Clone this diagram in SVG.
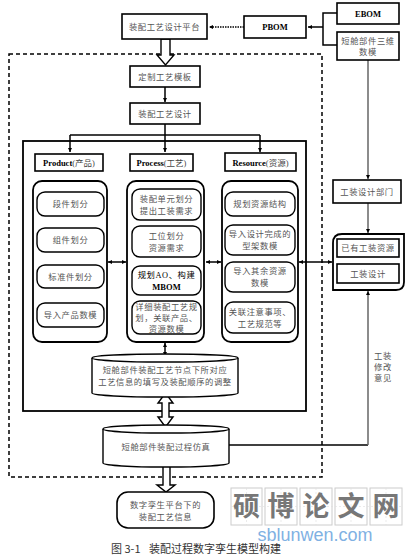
<svg xmlns="http://www.w3.org/2000/svg" width="419" height="559" viewBox="0 0 419 559">
<defs>
<marker id="arr" viewBox="0 0 10 10" refX="10" refY="5" markerWidth="4" markerHeight="4" orient="auto-start-reverse" markerUnits="userSpaceOnUse">
<path d="M0,0 L10,5 L0,10 Z" fill="#000"/>
</marker>
</defs>
<style>
.bx{fill:#fff;stroke:#000;stroke-width:1.6}
.pn{fill:#fff;stroke:#000;stroke-width:1.8}
.it{fill:#fff;stroke:#000;stroke-width:1.4}
.t{font-family:"Liberation Serif","Noto Sans CJK SC",serif;font-size:8.3px;fill:#555;text-anchor:middle;letter-spacing:0.6px}
.tb{font-family:"Liberation Serif","Noto Sans CJK SC",serif;font-size:8.5px;fill:#000;text-anchor:middle;font-weight:bold}
.cj{font-weight:normal;fill:#444}
.ln{fill:none;stroke:#000;stroke-width:1.5}
.gl{fill:none;stroke:#666;stroke-width:1.5}
.hol{fill:#fff;stroke:#000;stroke-width:1.4}
.dash{fill:none;stroke:#000;stroke-width:1.5;stroke-dasharray:4,3}
.wm{font-family:"Noto Sans CJK SC",sans-serif;font-size:27px;font-weight:bold;fill:#777;text-anchor:middle}
.wb{fill:#fff;stroke:#ccc;stroke-width:1}
.wg{stroke:#ddd;stroke-width:0.6;stroke-dasharray:2,2}
.cap{font-family:"Noto Sans CJK SC",sans-serif;font-size:11px;fill:#333}
</style>

<rect class="dash" x="9" y="54" width="313" height="423"/>
<rect class="pn" x="23" y="141" width="283" height="270"/>

<g id="connectors">
<path class="ln" d="M244,27 H209" stroke-dasharray="1.5,1" marker-end="url(#arr)"/>
<path class="ln" d="M337,13 H323 V45 H337" stroke-width="2"/>
<path class="ln" d="M323,27 H308" stroke-width="2" marker-end="url(#arr)"/>
<path class="gl" d="M368,60 V179" marker-end="url(#arr)"/>
<path class="gl" d="M368,203 V233" marker-end="url(#arr)"/>
<path class="hol" d="M161,39 V55 H157 L165.5,65 L174,55 H170 V39 Z"/>
<path class="ln" d="M165,87 V102" marker-end="url(#arr)"/>
<path class="ln" d="M165,124 V135"/>
<path class="ln" d="M70,135 H260" stroke-width="2"/>
<path class="ln" d="M70,135 V152" marker-end="url(#arr)"/>
<path class="ln" d="M165,135 V152" marker-end="url(#arr)"/>
<path class="ln" d="M260,135 V152" marker-end="url(#arr)"/>
<path class="ln" d="M108,262 H126" marker-start="url(#arr)" marker-end="url(#arr)"/>
<path class="ln" d="M206,262 H221" marker-start="url(#arr)" marker-end="url(#arr)"/>
<path class="ln" d="M299,262 H332" marker-start="url(#arr)" marker-end="url(#arr)"/>
<path class="ln" d="M165,343 V356" marker-start="url(#arr)" marker-end="url(#arr)"/>
<path class="hol" d="M162,403 H158 L165.5,393 L173,403 H169 V417 H173 L165.5,427 L158,417 H162 Z"/>
<path class="ln" d="M229,445 H368" stroke-width="2"/>
<path class="gl" d="M368,445 V291" marker-end="url(#arr)"/>
<path class="hol" d="M163,463 V485 H157 L166,492 L175,485 H170 V463 Z"/>
</g>

<g id="platform"><rect class="bx" x="122" y="14" width="85" height="25"/><text class="t" x="164.5" y="30">装配工艺设计平台</text></g>
<g id="pbom"><rect class="bx" x="244" y="16" width="62" height="22" stroke-width="2"/><text class="tb" x="275" y="30">PBOM</text></g>
<g id="ebom"><rect class="bx" x="337" y="3" width="62" height="21" stroke-width="2"/><text class="tb" x="368" y="17">EBOM</text></g>
<g id="model3d"><rect class="bx" x="337" y="32" width="62" height="28" stroke-width="2"/><text class="t" x="368" y="44">短舱部件三维</text><text class="t" x="368" y="55">数模</text></g>
<g id="template"><rect class="bx" x="130" y="66" width="70" height="21"/><text class="t" x="165" y="79.5">定制工艺模板</text></g>
<g id="design"><rect class="bx" x="130" y="103" width="70" height="21"/><text class="t" x="165" y="116.5">装配工艺设计</text></g>

<g id="product">
<rect class="bx" x="35" y="154" width="68" height="17"/><text class="tb" x="69" y="165.5">Product<tspan class="cj">(产品)</tspan></text>
<rect class="pn" x="33" y="181" width="74" height="161" rx="9"/>
<rect class="it" x="37" y="192" width="67" height="24" rx="8"/><text class="t" x="70.5" y="207">段件划分</text>
<rect class="it" x="37" y="228" width="67" height="24" rx="8"/><text class="t" x="70.5" y="243">组件划分</text>
<rect class="it" x="37" y="265" width="67" height="23" rx="8"/><text class="t" x="70.5" y="279.5">标准件划分</text>
<rect class="it" x="37" y="303" width="67" height="24" rx="8"/><text class="t" x="70.5" y="318">导入产品数模</text>
</g>

<g id="process">
<rect class="bx" x="130" y="154" width="63" height="17"/><text class="tb" x="161.5" y="165.5">Process<tspan class="cj">(工艺)</tspan></text>
<rect class="pn" x="127" y="181" width="77" height="161" rx="9"/>
<rect class="it" x="132" y="189" width="69" height="31" rx="8"/><text class="t" x="166.5" y="202">装配单元划分</text><text class="t" x="166.5" y="214">提出工装需求</text>
<rect class="it" x="132" y="226" width="69" height="31" rx="8"/><text class="t" x="166.5" y="239">工位划分</text><text class="t" x="166.5" y="251">资源需求</text>
<rect class="it" x="132" y="266" width="69" height="29" rx="8"/><text class="t" x="166.5" y="278" style="fill:#000">规划AO、构建</text><text class="tb" x="166.5" y="290">MBOM</text>
<rect class="it" x="132" y="301" width="69" height="33" rx="8"/><text class="t" x="166.5" y="310">详细装配工艺规</text><text class="t" x="166.5" y="321">划，关联产品、</text><text class="t" x="166.5" y="332">资源数模</text>
</g>

<g id="resource">
<rect class="bx" x="225" y="153" width="71" height="18"/><text class="tb" x="260.5" y="165.5">Resource<tspan class="cj">(资源)</tspan></text>
<rect class="pn" x="222" y="181" width="76" height="161" rx="9"/>
<rect class="it" x="225" y="192" width="70" height="24" rx="8"/><text class="t" x="260" y="207">规划资源结构</text>
<rect class="it" x="225" y="225" width="70" height="30" rx="8"/><text class="t" x="260" y="237">导入设计完成的</text><text class="t" x="260" y="249">型架数模</text>
<rect class="it" x="225" y="262" width="70" height="30" rx="8"/><text class="t" x="260" y="274">导入其余资源</text><text class="t" x="260" y="286">数模</text>
<rect class="it" x="225" y="302" width="70" height="31" rx="8"/><text class="t" x="260" y="315">关联注意事项、</text><text class="t" x="260" y="327">工艺规范等</text>
</g>

<g id="tooldept"><rect class="bx" x="333" y="180" width="68" height="23" stroke-width="2"/><text class="t" x="367" y="195">工装设计部门</text></g>
<g id="toolgroup">
<path class="pn" d="M342,234 H404 V282 Q404,290 396,290 H333 V243 Q333,234 342,234 Z" stroke-width="2"/>
<rect class="bx" x="337" y="239" width="62" height="18" stroke-width="2"/><text class="t" x="368" y="251">已有工装资源</text>
<rect class="bx" x="337" y="264" width="62" height="19" stroke-width="2"/><text class="t" x="368" y="276.5">工装设计</text>
</g>
<g id="toollabel">
<text class="t" x="374" y="359" style="text-anchor:start">工装</text>
<text class="t" x="374" y="370" style="text-anchor:start">修改</text>
<text class="t" x="374" y="381" style="text-anchor:start">意见</text>
</g>

<g id="fill">
<path class="it" d="M92,358 A73,4 0 0 1 238,358 V393 A73,4 0 0 1 92,393 Z"/>
<path class="it" d="M92,358 A73,4 0 0 0 238,358"/>
<text class="t" x="165" y="373">短舱部件装配工艺节点下所对应</text>
<text class="t" x="165" y="385">工艺信息的填写及装配顺序的调整</text>
</g>
<g id="simulation">
<path class="it" d="M103,429 A63,4 0 0 1 229,429 V463 A63,4 0 0 1 103,463 Z"/>
<path class="it" d="M103,429 A63,4 0 0 0 229,429"/>
<text class="t" x="166" y="450">短舱部件装配过程仿真</text>
</g>
<g id="result">
<rect class="bx" x="117" y="492" width="97" height="36" rx="11"/>
<text class="t" x="165.5" y="508">数字孪生平台下的</text>
<text class="t" x="165.5" y="520">装配工艺信息</text>
</g>

<g id="watermark">
<rect class="wb" x="231" y="488" width="31" height="37"/><rect class="wb" x="265" y="488" width="32" height="37"/><rect class="wb" x="300" y="488" width="32" height="37"/><rect class="wb" x="335" y="488" width="32" height="37"/><rect class="wb" x="370" y="488" width="32" height="37"/>
<path class="wg" d="M231,506.5 H402 M246.5,488 V525 M281,488 V525 M316,488 V525 M351,488 V525 M386,488 V525"/>
<text class="wm" x="246.5" y="516">硕</text><text class="wm" x="281" y="516">博</text><text class="wm" x="316" y="516">论</text><text class="wm" x="351" y="516">文</text><text class="wm" x="386" y="516">网</text>
<text x="315" y="541" style="font-family:'Liberation Sans',Arial,sans-serif;font-size:18px;fill:#7fb1e3;text-anchor:middle">sblunwen.com</text>
</g>
<text class="cap" x="111" y="553">图 3-1</text>
<text class="cap" x="149" y="553">装配过程数字孪生模型构建</text>
</svg>
